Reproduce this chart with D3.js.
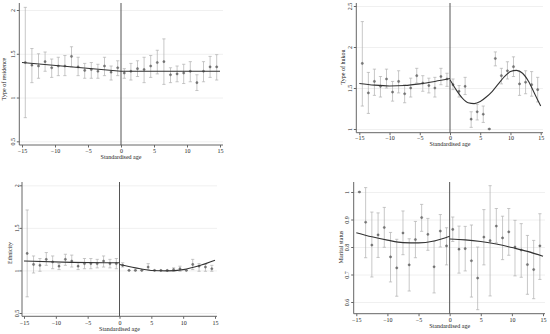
<!DOCTYPE html>
<html lang="en">

<head>
  <title>RD plots</title>
  <script src="https://cdn.jsdelivr.net/npm/d3@7"></script>
  <style>
    body { margin: 0; background: #fff; }
    text { font-family: "Liberation Serif", "Times New Roman", serif; fill: #222; }
  </style>
</head>

<body>
  <script>
    // bin midpoints of the standardised age
    var ageBins = [-14.5, -13.5, -12.5, -11.5, -10.5, -9.5, -8.5, -7.5, -6.5, -5.5, -4.5, -3.5, -2.5, -1.5, -0.5,
                   0.5, 1.5, 2.5, 3.5, 4.5, 5.5, 6.5, 7.5, 8.5, 9.5, 10.5, 11.5, 12.5, 13.5, 14.5];
    var xTicks = [-15, -10, -5, 0, 5, 10, 15];

    // type of residence
    var residenceMean = [1.40, 1.37, 1.36, 1.41, 1.34, 1.36, 1.36, 1.47, 1.35, 1.31, 1.32, 1.30, 1.36, 1.29, 1.34,
                         1.28, 1.30, 1.33, 1.32, 1.36, 1.40, 1.41, 1.26, 1.27, 1.28, 1.30, 1.17, 1.30, 1.35, 1.35];
    var residenceLo = [0.77, 1.17, 1.22, 1.30, 1.23, 1.25, 1.25, 1.35, 1.25, 1.22, 1.22, 1.22, 1.25, 1.20, 1.25,
                       1.22, 1.20, 1.24, 1.17, 1.23, 1.27, 1.15, 1.17, 1.18, 1.16, 1.18, 1.08, 1.18, 1.23, 1.20];
    var residenceHi = [2.03, 1.56, 1.50, 1.52, 1.44, 1.46, 1.48, 1.58, 1.46, 1.39, 1.40, 1.38, 1.46, 1.36, 1.42,
                       1.33, 1.39, 1.42, 1.46, 1.48, 1.54, 1.67, 1.34, 1.36, 1.38, 1.41, 1.26, 1.41, 1.47, 1.49];
    var residenceFitLeftX = [-15, 0];
    var residenceFitLeft = [1.40, 1.30];
    var residenceFitRightX = [0, 15];
    var residenceFitRight = [1.30, 1.30];
    var residenceTicks = [0.5, 1, 1.5, 2];

    // type of hukou
    var hukouMean = [1.80, 1.44, 1.58, 1.52, 1.61, 1.45, 1.58, 1.43, 1.50, 1.65, 1.56, 1.53, 1.50, 1.64, 1.61,
                     1.54, 1.46, 1.52, 1.12, 1.21, 1.18, 1.00, 1.86, 1.65, 1.71, 1.76, 1.55, 1.57, 1.54, 1.48];
    var hukouLo = [1.28, 1.19, 1.41, 1.39, 1.50, 1.34, 1.44, 1.32, 1.39, 1.56, 1.46, 1.44, 1.39, 1.54, 1.52,
                   1.48, 1.39, 1.42, 1.02, 1.11, 1.08, 1.00, 1.77, 1.55, 1.61, 1.64, 1.41, 1.43, 1.40, 1.33];
    var hukouHi = [2.31, 1.69, 1.73, 1.64, 1.73, 1.58, 1.71, 1.54, 1.62, 1.74, 1.65, 1.62, 1.63, 1.74, 1.68,
                   1.61, 1.53, 1.63, 1.21, 1.30, 1.28, 1.00, 1.94, 1.74, 1.82, 1.88, 1.70, 1.71, 1.70, 1.63];
    var hukouFitLeftX = [-15, -12.5, -10, -7.5, -5, -2.5, 0];
    var hukouFitLeft = [1.555, 1.535, 1.525, 1.53, 1.55, 1.58, 1.615];
    var hukouFitRightX = [0, 1, 2, 3, 4, 5, 6, 7, 8, 9, 10, 11, 12, 13, 14, 15];
    var hukouFitRight = [1.60, 1.48, 1.38, 1.32, 1.31, 1.335, 1.39, 1.46, 1.55, 1.64, 1.70, 1.715, 1.68, 1.58, 1.43, 1.28];
    var hukouTicks = [1, 1.5, 2, 2.5];

    // ethnicity
    var ethnicityMean = [1.20, 1.07, 1.06, 1.13, 1.10, 1.05, 1.13, 1.11, 1.05, 1.08, 1.08, 1.08, 1.11, 1.08, 1.08,
                         1.06, 1.00, 1.00, 1.00, 1.04, 1.00, 1.00, 1.00, 1.01, 1.02, 1.00, 1.07, 1.05, 1.04, 1.02];
    var ethnicityLo = [0.69, 0.97, 0.99, 1.06, 1.02, 1.01, 1.06, 1.04, 1.01, 1.02, 1.02, 1.03, 1.04, 1.03, 1.02,
                       1.04, 1.00, 1.00, 1.00, 1.01, 1.00, 1.00, 1.00, 0.99, 0.99, 1.00, 1.01, 0.99, 0.99, 0.99];
    var ethnicityHi = [1.71, 1.17, 1.14, 1.21, 1.17, 1.08, 1.19, 1.18, 1.09, 1.14, 1.14, 1.13, 1.17, 1.13, 1.14,
                       1.09, 1.00, 1.00, 1.00, 1.08, 1.00, 1.00, 1.00, 1.03, 1.05, 1.00, 1.13, 1.08, 1.07, 1.06];
    var ethnicityFitLeftX = [-15, -7.5, 0];
    var ethnicityFitLeft = [1.11, 1.095, 1.09];
    var ethnicityFitRightX = [0, 2.5, 5, 7.5, 10, 12.5, 15];
    var ethnicityFitRight = [1.07, 1.03, 1.00, 0.995, 1.01, 1.055, 1.12];
    var ethnicityTicks = [0.5, 1, 1.5, 2];

    // marital status
    var maritalMean = [1.00, 0.89, 0.807, 0.844, 0.871, 0.764, 0.724, 0.851, 0.735, 0.827, 0.907, 0.846, 0.728, 0.858, 0.804,
                       0.864, 0.792, 0.794, 0.75, 0.687, 0.836, 0.823, 0.876, 0.833, 0.855, 0.80, 0.789, 0.736, 0.718, 0.804];
    var maritalLo = [1.00, 0.761, 0.691, 0.762, 0.799, 0.673, 0.621, 0.772, 0.64, 0.761, 0.857, 0.788, 0.633, 0.80, 0.735,
                     0.82, 0.705, 0.713, 0.618, 0.572, 0.735, 0.622, 0.815, 0.754, 0.77, 0.695, 0.69, 0.628, 0.612, 0.682];
    var maritalHi = [1.00, 1.016, 0.927, 0.924, 0.944, 0.853, 0.828, 0.931, 0.83, 0.893, 0.955, 0.904, 0.821, 0.918, 0.87,
                     0.909, 0.876, 0.875, 0.88, 0.80, 0.936, 1.023, 0.94, 0.912, 0.94, 0.897, 0.885, 0.842, 0.824, 0.921];
    var maritalFitLeftX = [-15, -12.5, -10, -7.5, -5, -2.5, 0];
    var maritalFitLeft = [0.852, 0.837, 0.825, 0.816, 0.815, 0.822, 0.839];
    var maritalFitRightX = [0, 2.5, 5, 7.5, 10, 12.5, 15];
    var maritalFitRight = [0.829, 0.826, 0.82, 0.811, 0.798, 0.784, 0.766];
    var maritalTicks = [0.6, 0.7, 0.8, 0.9, 1];

    var svg = d3.select("body").append("svg")
                .attr("width", 550)
                .attr("height", 334);

    function drawPanel(p) {
      var g = svg.append("g");
      var x = d3.scaleLinear().domain([-15, 15]).range([p.xLeft, p.xRight]);
      var y = d3.scaleLinear().domain(p.yDomain).range([p.yBottomVal, p.yTopVal]);

      // gridlines
      g.append("g")
       .attr("transform", "translate(" + p.axisX + ",0)")
       .call(d3.axisLeft(y).tickValues(p.yTicks).tickSize(-(p.right - p.axisX)).tickFormat(""))
       .call(function (s) {
         s.select(".domain").remove();
         s.selectAll("line").attr("stroke", "#ececec").attr("stroke-width", 0.8);
       });

      // y axis
      var ya = g.append("g")
                .attr("transform", "translate(" + p.axisX + ",0)")
                .call(d3.axisLeft(y).tickValues(p.yTicks).tickSize(2.5).tickSizeOuter(0)
                        .tickFormat(function (d) { return d3.format("~g")(d); }));
      ya.select(".domain").attr("d", "M0," + p.top + "V" + p.bottom).attr("stroke", "#666");
      ya.selectAll(".tick line").attr("stroke", "#666");
      ya.selectAll(".tick text")
        .attr("x", null).attr("dy", null)
        .attr("text-anchor", "middle")
        .attr("transform", "translate(" + (-p.yLabOff) + ",0) rotate(-90)")
        .style("font-size", "6px")
        .style("font-family", "Liberation Serif");

      // x axis
      var xa = g.append("g")
                .attr("transform", "translate(0," + p.bottom + ")")
                .call(d3.axisBottom(x).tickValues(xTicks).tickSize(2.5).tickSizeOuter(0)
                        .tickFormat(function (d) { return d < 0 ? "\u2212" + Math.abs(d) : d; }));
      xa.select(".domain").attr("d", "M" + p.axisX + ",0H" + p.right).attr("stroke", "#666");
      xa.selectAll(".tick line").attr("stroke", "#666");
      xa.selectAll(".tick text")
        .attr("y", p.xLabOff).attr("dy", null)
        .style("font-size", "6px")
        .style("font-family", "Liberation Serif");

      // titles
      g.append("text")
       .attr("x", x(0)).attr("y", p.bottom + p.xTitleOff)
       .attr("text-anchor", "middle")
       .style("font-size", "6px")
       .text("Standardised age");
      g.append("text")
       .attr("transform", "translate(" + (p.axisX - p.yTitleOff) + "," + p.yTitleY + ") rotate(-90)")
       .attr("text-anchor", "middle")
       .style("font-size", "6px")
       .text(p.title);

      // cutoff line
      g.append("line")
       .attr("x1", x(0)).attr("x2", x(0))
       .attr("y1", p.top).attr("y2", p.bottom)
       .attr("stroke", "#555").attr("stroke-width", 1);

      // confidence intervals
      var rows = ageBins.map(function (a, i) {
        return { age: a, mean: p.mean[i], lo: p.lo[i], hi: p.hi[i] };
      });
      var ci = g.selectAll(".ci").data(rows).enter().append("g").classed("ci", true)
                .attr("stroke", "#b0b0b0").attr("stroke-width", 0.7);
      ci.append("line")
        .attr("x1", function (d) { return x(d.age); })
        .attr("x2", function (d) { return x(d.age); })
        .attr("y1", function (d) { return y(d.lo); })
        .attr("y2", function (d) { return y(d.hi); });
      ci.append("line")
        .attr("x1", function (d) { return x(d.age) - 1.6; })
        .attr("x2", function (d) { return x(d.age) + 1.6; })
        .attr("y1", function (d) { return y(d.lo); })
        .attr("y2", function (d) { return y(d.lo); });
      ci.append("line")
        .attr("x1", function (d) { return x(d.age) - 1.6; })
        .attr("x2", function (d) { return x(d.age) + 1.6; })
        .attr("y1", function (d) { return y(d.hi); })
        .attr("y2", function (d) { return y(d.hi); });

      // bin means
      g.selectAll(".pt").data(rows).enter().append("circle").classed("pt", true)
       .attr("cx", function (d) { return x(d.age); })
       .attr("cy", function (d) { return y(d.mean); })
       .attr("r", 1.1)
       .attr("fill", "#777")
       .attr("stroke", "#555").attr("stroke-width", 0.4);

      // fitted curves
      var line = d3.line()
                   .x(function (d) { return x(d[0]); })
                   .y(function (d) { return y(d[1]); })
                   .curve(d3.curveMonotoneX);
      [[p.fitLX, p.fitL], [p.fitRX, p.fitR]].forEach(function (f) {
        g.append("path")
         .datum(d3.zip(f[0], f[1]))
         .attr("d", line)
         .attr("fill", "none")
         .attr("stroke", "#333")
         .attr("stroke-width", 1.1);
      });
    }

    drawPanel({
      title: "Type of residence", mean: residenceMean, lo: residenceLo, hi: residenceHi,
      fitLX: residenceFitLeftX, fitL: residenceFitLeft, fitRX: residenceFitRightX, fitR: residenceFitRight,
      yTicks: residenceTicks, yDomain: [0.5, 2], yBottomVal: 141.3, yTopVal: 10,
      xLeft: 22, xRight: 220, axisX: 19.3, right: 223, top: 3, bottom: 145,
      yLabOff: 4.3, yTitleOff: 13.3, yTitleY: 79, xLabOff: 8, xTitleOff: 14
    });
    drawPanel({
      title: "Type of hukou", mean: hukouMean, lo: hukouLo, hi: hukouHi,
      fitLX: hukouFitLeftX, fitL: hukouFitLeft, fitRX: hukouFitRightX, fitR: hukouFitRight,
      yTicks: hukouTicks, yDomain: [1, 2.5], yBottomVal: 129, yTopVal: 6,
      xLeft: 359.3, xRight: 540.7, axisX: 356.3, right: 543, top: 3, bottom: 132.7,
      yLabOff: 4.8, yTitleOff: 11.8, yTitleY: 67, xLabOff: 7.6, xTitleOff: 13.6
    });
    drawPanel({
      title: "Ethnicity", mean: ethnicityMean, lo: ethnicityLo, hi: ethnicityHi,
      fitLX: ethnicityFitLeftX, fitL: ethnicityFitLeft, fitRX: ethnicityFitRightX, fitR: ethnicityFitRight,
      yTicks: ethnicityTicks, yDomain: [0.5, 2], yBottomVal: 313, yTopVal: 185.3,
      xLeft: 24, xRight: 215, axisX: 22, right: 217, top: 182, bottom: 316.3,
      yLabOff: 3.3, yTitleOff: 10, yTitleY: 253, xLabOff: 8.4, xTitleOff: 15
    });
    drawPanel({
      title: "Marital status", mean: maritalMean, lo: maritalLo, hi: maritalHi,
      fitLX: maritalFitLeftX, fitL: maritalFitLeft, fitRX: maritalFitRightX, fitR: maritalFitRight,
      yTicks: maritalTicks, yDomain: [0.6, 1], yBottomVal: 302, yTopVal: 192,
      xLeft: 356.3, xRight: 543, axisX: 353.7, right: 545, top: 182, bottom: 313.7,
      yLabOff: 5, yTitleOff: 11, yTitleY: 247, xLabOff: 8.6, xTitleOff: 14.6
    });
  </script>
</body>

</html>
